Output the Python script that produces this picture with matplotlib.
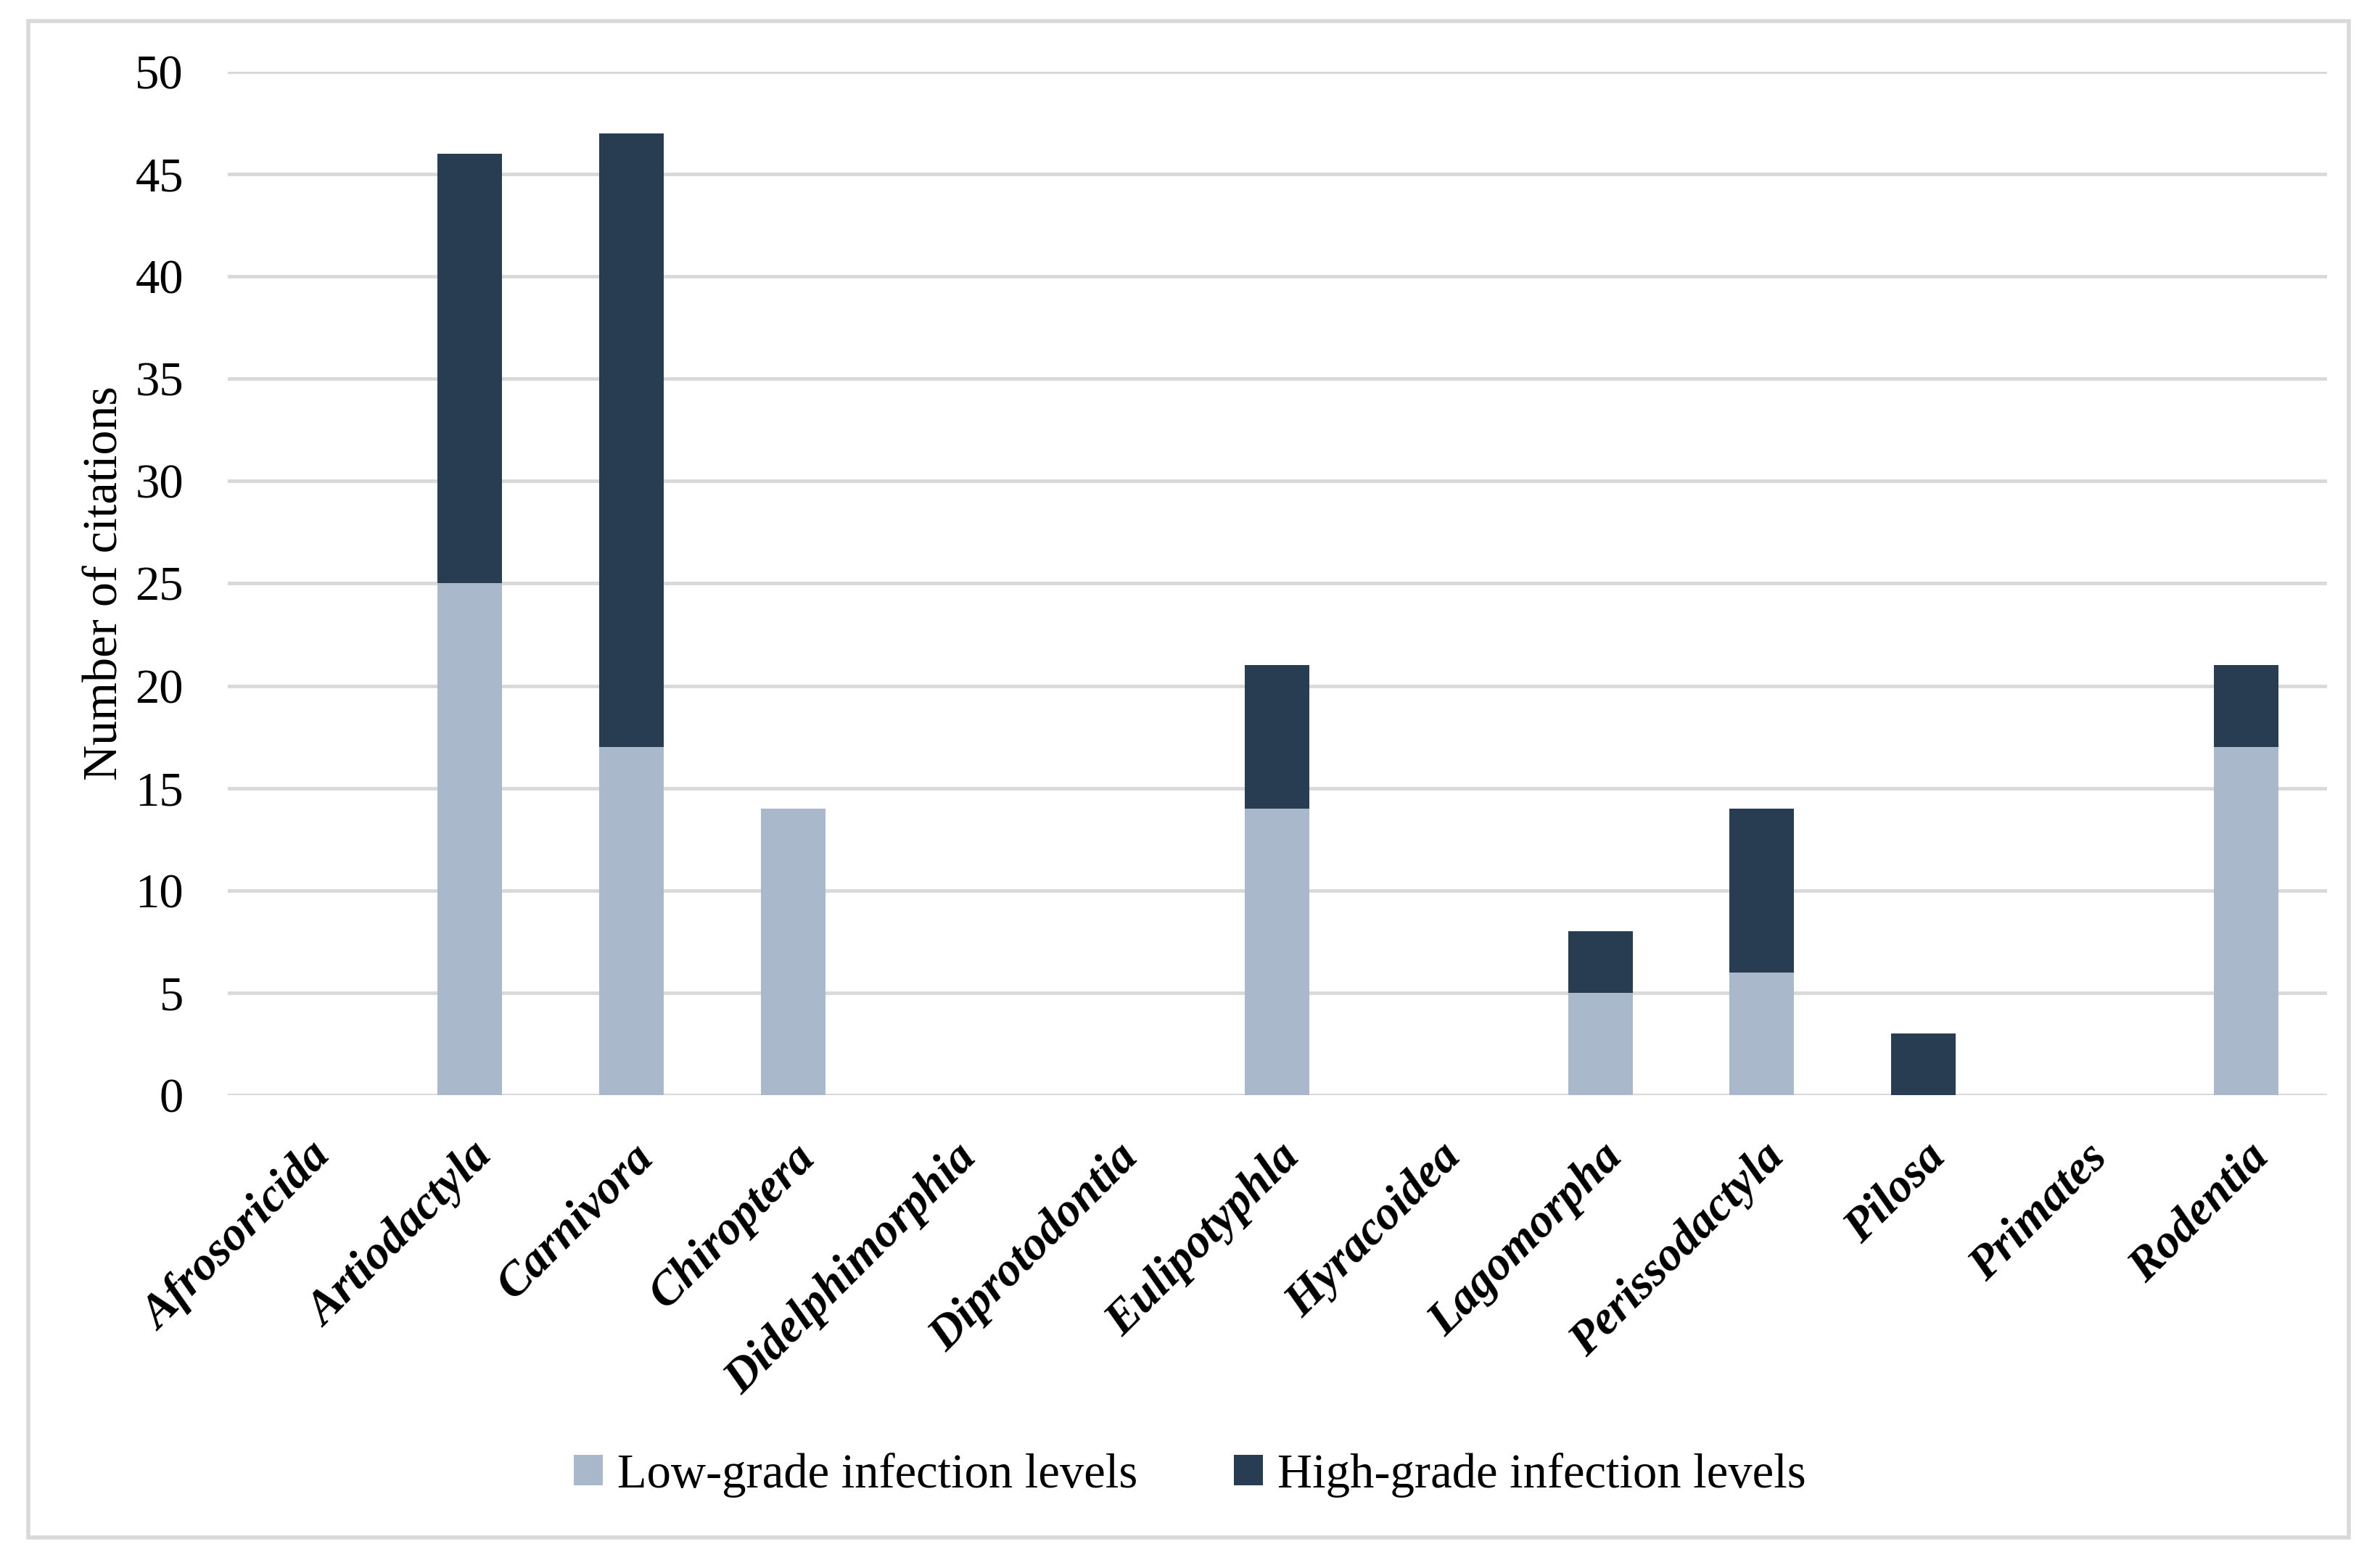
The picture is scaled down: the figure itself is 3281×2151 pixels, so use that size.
import matplotlib
matplotlib.use("Agg")
import matplotlib.pyplot as plt
from matplotlib.patches import Rectangle
import numpy as np

categories = ["Afrosoricida", "Artiodactyla", "Carnivora", "Chiroptera", "Didelphimorphia",
              "Diprotodontia", "Eulipotyphla", "Hyracoidea", "Lagomorpha", "Perissodactyla",
              "Pilosa", "Primates", "Rodentia"]
low_grade = [0, 25, 17, 14, 0, 0, 14, 0, 5, 6, 0, 0, 17]
high_grade = [0, 21, 30, 0, 0, 0, 7, 0, 3, 8, 3, 0, 4]
y_ticks = [0, 5, 10, 15, 20, 25, 30, 35, 40, 45, 50]

LOW_C = "#A9B9CB"
HIGH_C = "#293D52"
GRID_C = "#D9D9D9"

plt.rcParams['font.family'] = ['Liberation Serif', 'DejaVu Serif']

fig = plt.figure(figsize=(32.81, 21.51), dpi=100)
ax = fig.add_axes([0.0957, 0.298, 0.882, 0.656])

x = np.arange(len(categories))
ax.bar(x, low_grade, width=0.4, color=LOW_C, label="Low-grade infection levels", zorder=3)
ax.bar(x, high_grade, width=0.4, bottom=low_grade, color=HIGH_C,
       label="High-grade infection levels", zorder=3)

ax.set_xlim(-0.5, len(categories) - 0.5)
ax.set_ylim(0, 50)
ax.set_yticks(y_ticks)
ax.set_yticklabels([str(v) for v in y_ticks], fontsize=48)
ax.yaxis.grid(True, color=GRID_C, linewidth=3.5, zorder=0)
ax.set_axisbelow(True)
for s in ["top", "right", "left", "bottom"]:
    ax.spines[s].set_visible(False)
ax.axhline(0, color=GRID_C, linewidth=3.5, zorder=2)
ax.tick_params(axis='y', length=0, pad=44)
ax.tick_params(axis='x', length=0, pad=40)

ax.set_xticks(x)
ax.set_xticklabels(categories, rotation=45, ha='right', va='top', rotation_mode='anchor',
                   fontsize=47, fontweight='bold', fontstyle='italic')

ax.set_ylabel("Number of citations", fontsize=49, labelpad=8)

leg = fig.legend(loc='center', bbox_to_anchor=(0.5, 0.0545), ncol=2, frameon=False,
                 fontsize=48, handlelength=0.6, handleheight=0.6, handletextpad=0.3,
                 columnspacing=2.0)

fig.patches.append(Rectangle((0.012, 0.0146), 0.975, 0.972, transform=fig.transFigure,
                             fill=False, edgecolor=GRID_C, linewidth=4))

fig.savefig("out.png", dpi=100, facecolor="white")
